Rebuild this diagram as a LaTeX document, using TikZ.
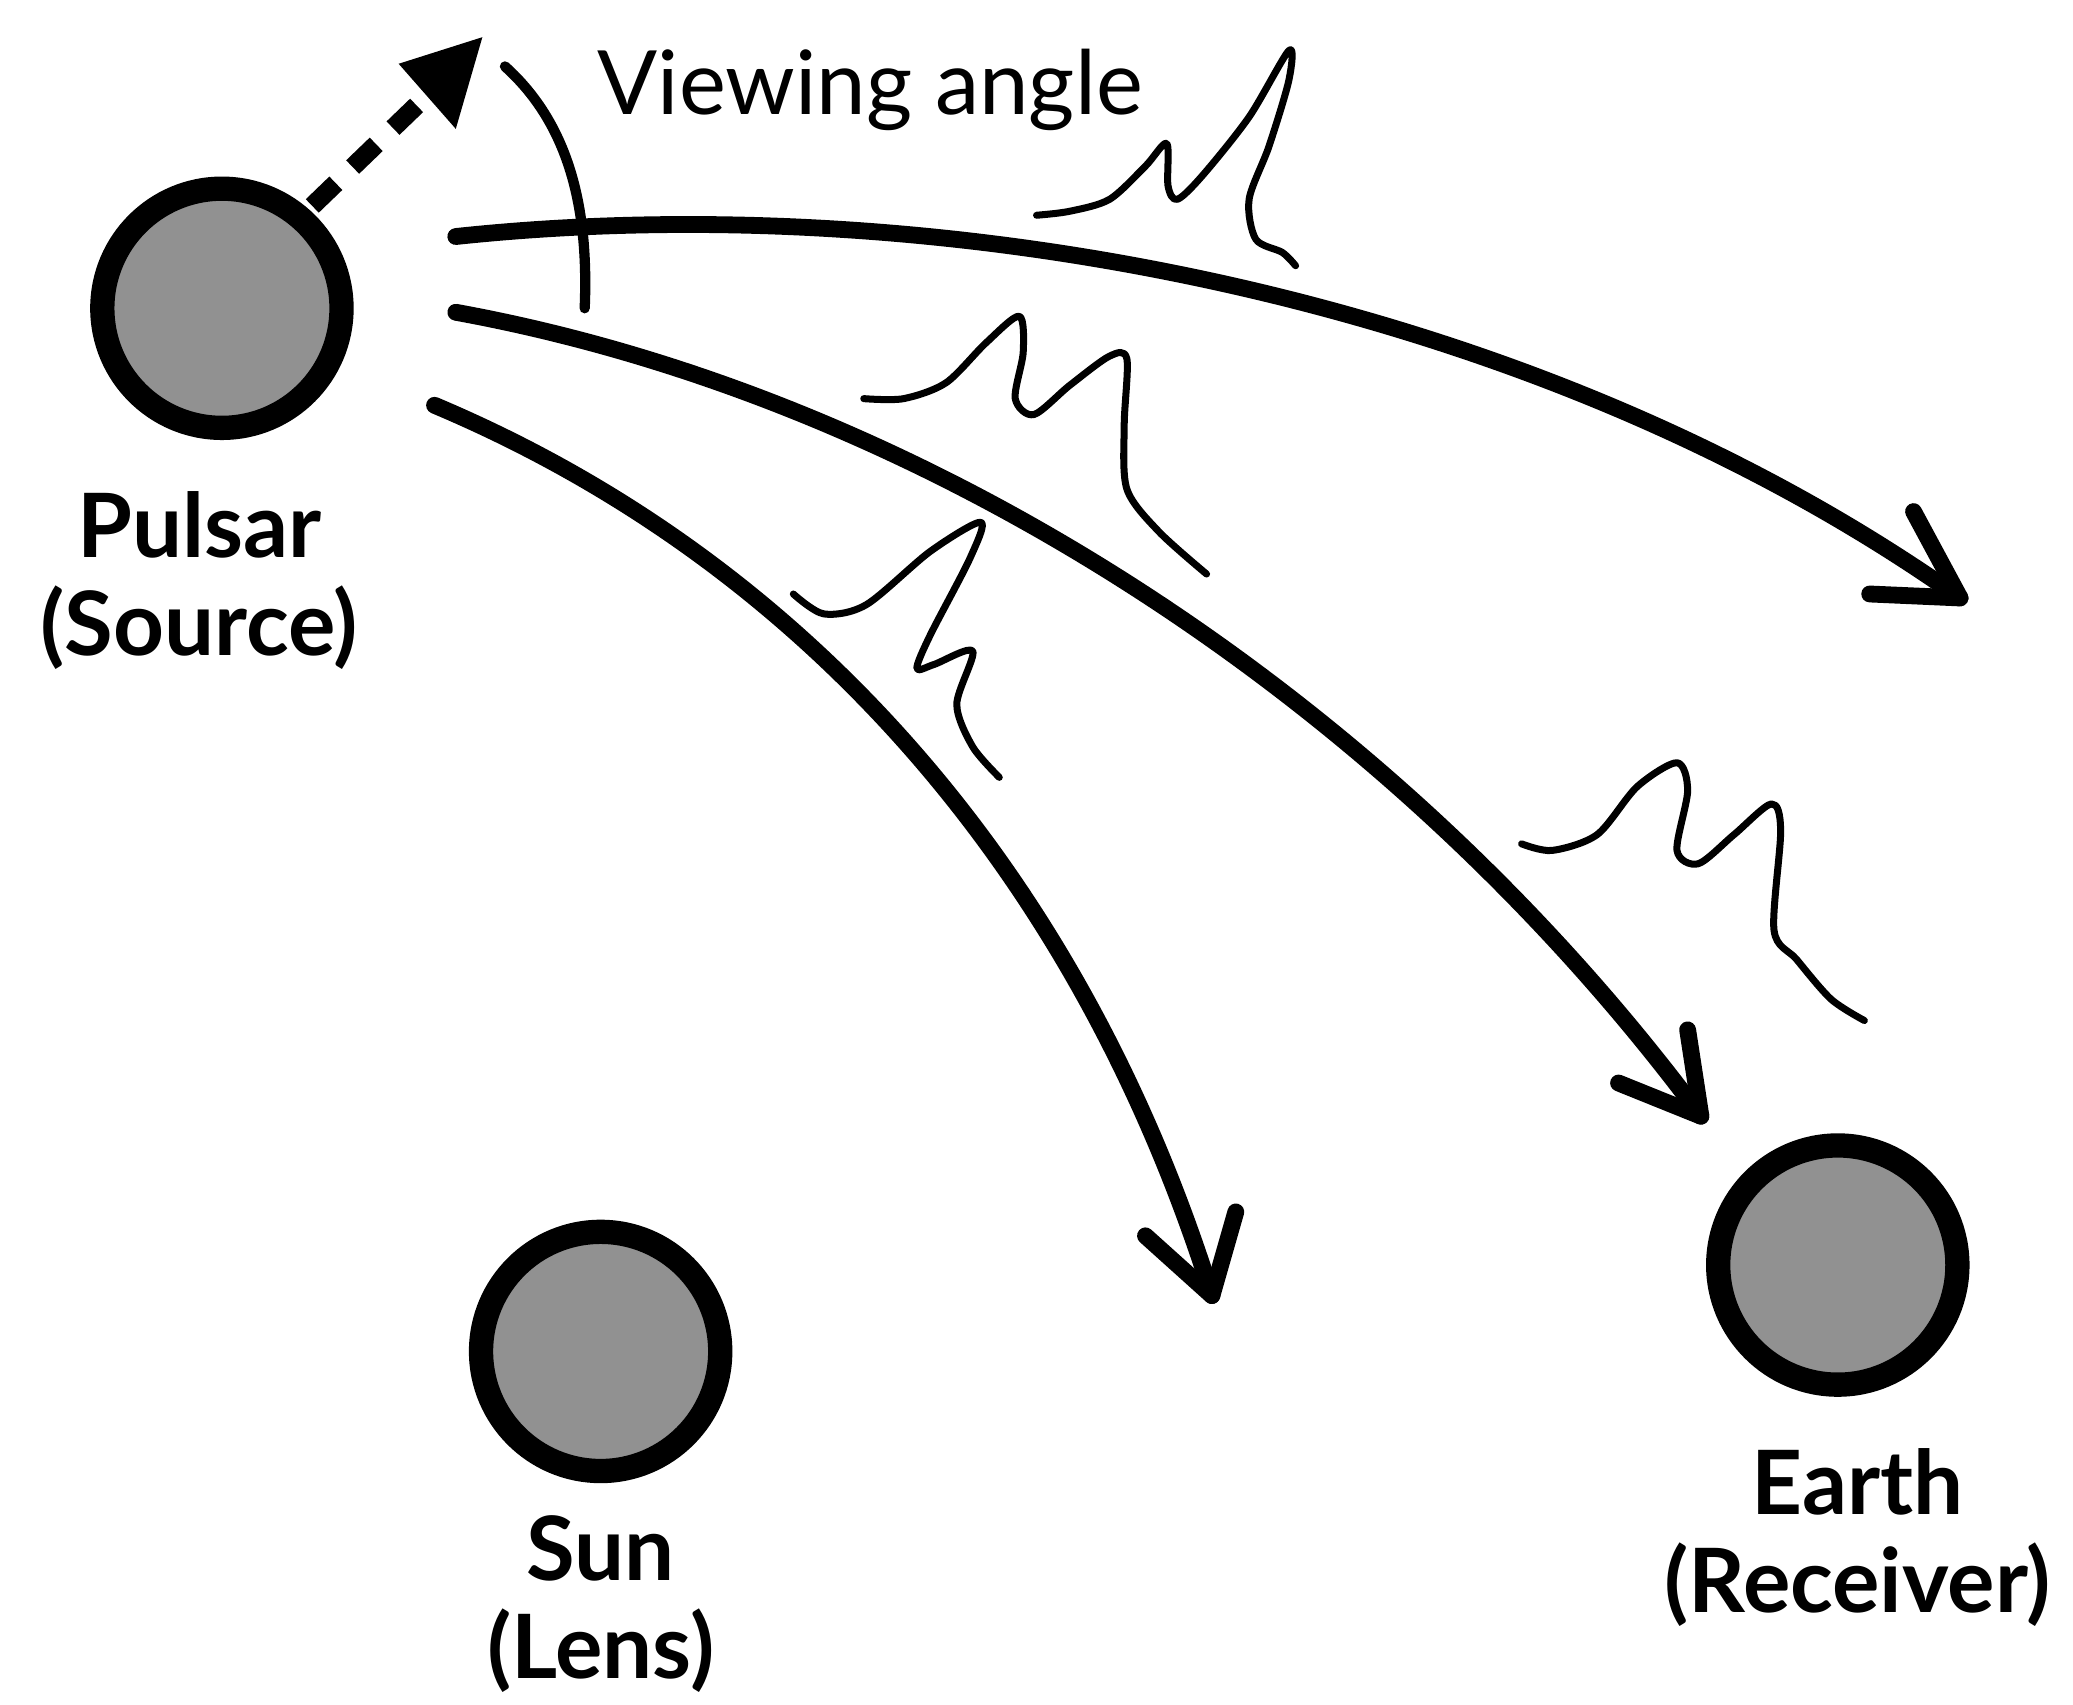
\documentclass[tikz,border=0pt]{standalone}
\usepackage{fontspec}
\setmainfont{Lato}
\begin{document}
\begin{tikzpicture}[x=0.01cm,y=-0.01cm,
  body/.style={circle,draw=black,fill=black!43,line width=5.2pt,minimum size=180*0.01cm,inner sep=0},
  lbl/.style={font=\fontsize{19}{21}\selectfont\bfseries,align=center},
  ray/.style={line width=3.6pt,line cap=round},
  head/.style={line width=3.6pt,line cap=round,line join=round},
  wave/.style={line width=1.5pt,line cap=round,line join=round}]
\useasboundingbox (0,0) rectangle (1560,1283);
\node[body] (pulsar) at (167,232) {};
\node[body] (sun) at (452,1017) {};
\node[body] (earth) at (1383,952) {};
\node[lbl] (pl) at (150,437) {Pulsar\\(Source)};
\node[lbl] (sl) at (452,1207) {Sun\\(Lens)};
\node[lbl] (el) at (1398,1157) {Earth\\(Receiver)};
\node[font=\fontsize{19}{21}\selectfont] (va) at (655,68) {Viewing angle};
% rays
\draw[ray] (343,178) .. controls (700,140) and (1150,220) .. (1475,450);
\draw[head] (1440,385) -- (1475,450) -- (1407,447);
\draw[ray] (343,235) .. controls (700,300) and (1050,530) .. (1280,840);
\draw[head] (1270,775) -- (1280,840) -- (1218,815);
\draw[ray] (327,305) .. controls (600,420) and (810,650) .. (912,975);
\draw[head] (862,930) -- (912,975) -- (930,912);
% dotted arrow
\draw[line width=4pt,dash pattern=on 7pt off 5pt] (235,155) -- (318,75);
\fill (300,48) -- (363,28) -- (343,97) -- cycle;
% viewing angle arc
\draw[line width=2.2pt,line cap=round] (380,50) .. controls (430,95) and (443,160) .. (440,232);
% waves
\draw[wave] plot[smooth,tension=0.5] coordinates {(780,162)(805,159)(835,150)(862,125)(878,108)(879,140)(886,150)(905,132)(940,88)(970,38)(970,60)(955,110)(940,150)(945,180)(965,190)(975,200)};
\draw[wave] plot[smooth,tension=0.5] coordinates {(650,300)(680,300)(712,288)(742,258)(767,238)(770,265)(764,300)(778,312)(805,290)(835,268)(848,270)(846,320)(848,368)(872,400)(908,432)};
\draw[wave] plot[smooth,tension=0.5] coordinates {(597,447)(620,462)(652,455)(700,415)(738,393)(730,420)(700,478)(690,503)(703,500)(732,490)(720,530)(732,562)(752,585)};
\draw[wave] plot[smooth,tension=0.5] coordinates {(1145,635)(1168,640)(1202,628)(1232,592)(1262,574)(1270,595)(1262,640)(1278,650)(1305,628)(1333,605)(1340,625)(1335,700)(1352,722)(1378,752)(1403,768)};
\end{tikzpicture}
\end{document}
